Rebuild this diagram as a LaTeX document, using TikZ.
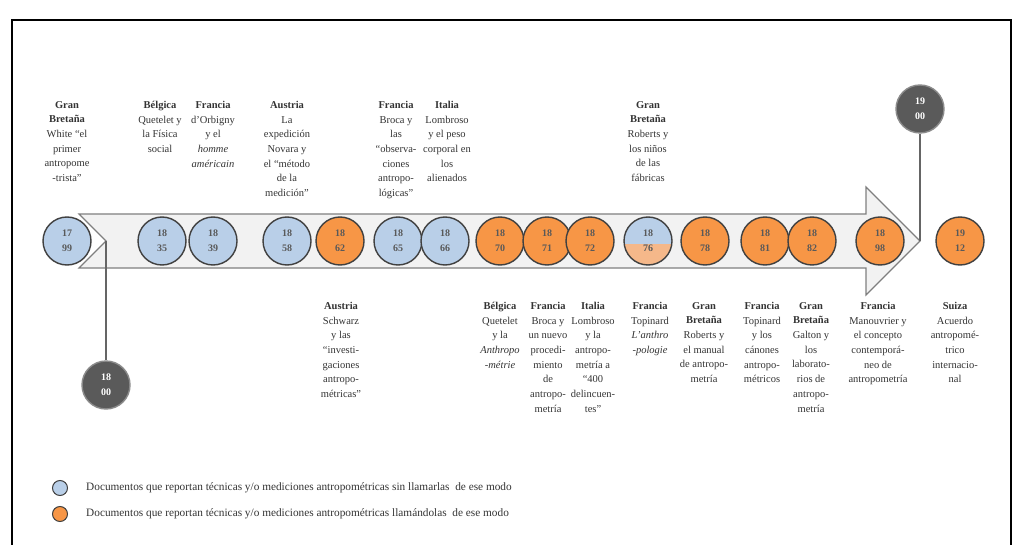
\documentclass[tikz,border=0pt]{standalone}
\usepackage{fontspec}
\setmainfont{Liberation Serif}
\usepackage{xcolor}
\usetikzlibrary{positioning}

\definecolor{sinnombre}{RGB}{185,207,232}
\definecolor{connombre}{RGB}{247,150,70}
\definecolor{durazno}{RGB}{245,184,138}
\definecolor{hito}{RGB}{90,90,90}
\definecolor{borde}{RGB}{64,64,64}
\definecolor{banda}{RGB}{242,242,242}
\definecolor{bandaborde}{RGB}{127,127,127}
\definecolor{cifra}{RGB}{89,89,89}

\tikzset{
  anio/.style={circle,draw=borde,line width=1.4pt,minimum size=48pt,inner sep=0pt,
    align=center,font=\fontsize{10}{15}\selectfont\bfseries,text=cifra},
  sin/.style={anio,fill=sinnombre},
  con/.style={anio,fill=connombre},
  hitoanio/.style={anio,fill=hito,draw=hito!70,text=white},
  rotulo/.style={anchor=north,inner sep=0pt,align=center,
    font=\fontsize{10.5}{14.7}\selectfont,text=black!80},
  clave/.style={circle,draw=borde,line width=1pt,minimum size=15pt,inner sep=0pt},
  clavetexto/.style={anchor=west,inner sep=0pt,font=\fontsize{11.3}{13}\selectfont,text=black!80}
}

\begin{document}
\begin{tikzpicture}[x=1pt,y=1pt,yscale=-1]
\useasboundingbox (0,0) rectangle (1016,545);

%Shape: Frame
\draw [line width=1.5pt] (12,545) -- (12,20) -- (1011,20) -- (1011,545);

%Shape: Arrow
\coordinate (notch) at (106,241);
\coordinate (tip) at (920,241);
\draw [fill=banda,draw=bandaborde,line width=1.2pt] (79,214) -- (866,214) -- (866,187) -- (tip) -- (866,295) -- (866,268) -- (79,268) -- (notch) -- cycle;

% Year Nodes
\node [sin] (y1799) at (67,241) {17\\99};
\node [sin] (y1835) at (162,241) {18\\35};
\node [sin] (y1839) at (213,241) {18\\39};
\node [sin] (y1858) at (287,241) {18\\58};
\node [con] (y1862) at (340,241) {18\\62};
\node [sin] (y1865) at (398,241) {18\\65};
\node [sin] (y1866) at (445,241) {18\\66};
\node [con] (y1870) at (500,241) {18\\70};
\node [con] (y1871) at (547,241) {18\\71};
\node [con] (y1872) at (590,241) {18\\72};
\node [sin,path picture={\fill[durazno] ([yshift=-3pt]path picture bounding box.west) rectangle (path picture bounding box.south east);}] (y1876) at (648,241) {18\\76};
\node [con] (y1878) at (705,241) {18\\78};
\node [con] (y1881) at (765,241) {18\\81};
\node [con] (y1882) at (812,241) {18\\82};
\node [con] (y1898) at (880,241) {18\\98};
\node [con] (y1912) at (960,241) {19\\12};

% Century Nodes
\node [hitoanio] (y1800) at (106,385) {18\\00};
\node [hitoanio] (y1900) at (920,109) {19\\00};
\draw [bandaborde!80!black,line width=1.4pt] (notch) -- (y1800);
\draw [bandaborde!80!black,line width=1.4pt] (y1900) -- (tip);

% Text Node (above)
\node [rotulo] (t1799) at (67,101) {\textbf{Gran}\\\textbf{Bretaña}\\White “el\\primer\\antropome\\-trista”};
\node [rotulo] (t1835) at (160,101) {\textbf{Bélgica}\\Quetelet y\\la Física\\social};
\node [rotulo] (t1839) at (213,101) {\textbf{Francia}\\d’Orbigny\\y el\\\textit{homme}\\\textit{américain}};
\node [rotulo] (t1858) at (287,101) {\textbf{Austria}\\La\\expedición\\Novara y\\el “método\\de la\\medición”};
\node [rotulo] (t1865) at (396,101) {\textbf{Francia}\\Broca y\\las\\“observa-\\ciones\\antropo-\\lógicas”};
\node [rotulo] (t1866) at (447,101) {\textbf{Italia}\\Lombroso\\y el peso\\corporal en\\los\\alienados};
\node [rotulo] (t1876a) at (648,101) {\textbf{Gran}\\\textbf{Bretaña}\\Roberts y\\los niños\\de las\\fábricas};

% Text Node (below)
\node [rotulo] (t1862) at (341,302) {\textbf{Austria}\\Schwarz\\y las\\“investi-\\gaciones\\antropo-\\métricas”};
\node [rotulo] (t1870) at (500,302) {\textbf{Bélgica}\\Quetelet\\y la\\\textit{Anthropo}\\\textit{-métrie}};
\node [rotulo] (t1871) at (548,302) {\textbf{Francia}\\Broca y\\un nuevo\\procedi-\\miento\\de\\antropo-\\metría};
\node [rotulo] (t1872) at (593,302) {\textbf{Italia}\\Lombroso\\y la\\antropo-\\metría a\\“400\\delincuen-\\tes”};
\node [rotulo] (t1876b) at (650,302) {\textbf{Francia}\\Topinard\\\textit{L’anthro}\\\textit{-pologie}};
\node [rotulo] (t1878) at (704,302) {\textbf{Gran}\\\textbf{Bretaña}\\Roberts y\\el manual\\de antropo-\\metría};
\node [rotulo] (t1881) at (762,302) {\textbf{Francia}\\Topinard\\y los\\cánones\\antropo-\\métricos};
\node [rotulo] (t1882) at (811,302) {\textbf{Gran}\\\textbf{Bretaña}\\Galton y\\los\\laborato-\\rios de\\antropo-\\metría};
\node [rotulo] (t1898) at (878,302) {\textbf{Francia}\\Manouvrier y\\el concepto\\contemporá-\\neo de\\antropometría};
\node [rotulo] (t1912) at (955,302) {\textbf{Suiza}\\Acuerdo\\antropomé-\\trico\\internacio-\\nal};

% Legend
\node [clave,fill=sinnombre] (kblue) at (60,488) {};
\node [clave,fill=connombre] (korange) at (60,514) {};
\node [clavetexto,right=18pt of kblue] (kbluetext) {Documentos que reportan técnicas y/o mediciones antropométricas sin llamarlas\ \ de ese modo};
\node [clavetexto,right=18pt of korange] (korangetext) {Documentos que reportan técnicas y/o mediciones antropométricas llamándolas\ \ de ese modo};

\end{tikzpicture}
\end{document}
